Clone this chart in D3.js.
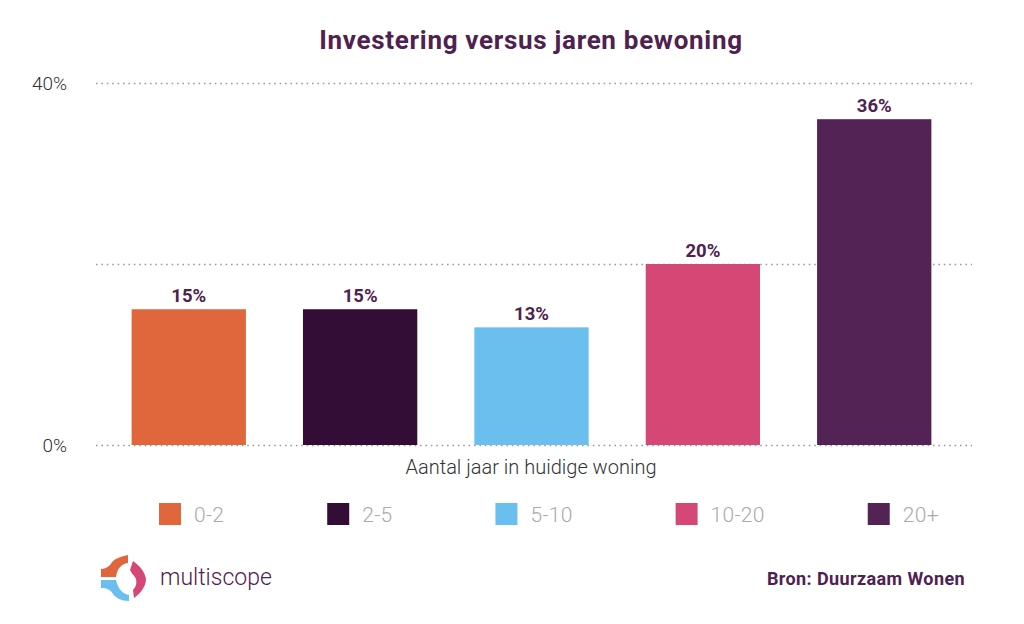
<!DOCTYPE html>
<html><head><meta charset="utf-8">
<script src="https://cdn.jsdelivr.net/npm/d3@7/dist/d3.min.js"></script>
<style>body{margin:0;background:#fff}svg{display:block}</style>
</head><body>
<svg id="c" width="1024" height="624"></svg>
<script>
const categories = ["0-2", "2-5", "5-10", "10-20", "20+"];
const values = [15, 15, 13, 20, 36];
const colors = ["#e0673b", "#330d35", "#6bbfee", "#d54875", "#542356"];
const yTicks = [0, 20, 40];
const tickLabels = ["0%", "", "40%"];
const title = "Investering versus jaren bewoning";
const xTitle = "Aantal jaar in huidige woning";
const source = "Bron: Duurzaam Wonen";

const svg = d3.select("#c");
const purple = "#4f2150";
const font = "Roboto, 'DejaVu Sans', sans-serif";

const y = d3.scaleLinear().domain([0, 40]).range([445, 83]);
const x = d3.scaleBand().domain(categories).range([103, 960]).paddingInner(0.333).paddingOuter(0.167);

// title
svg.append("text").attr("x", 531).attr("y", 49).attr("text-anchor", "middle")
  .attr("font-family", font).attr("font-weight", "bold").attr("font-size", 26)
  .attr("letter-spacing", 0.7)
  .attr("fill", purple).text(title);

// grid
const grid = svg.append("g");
grid.selectAll("line").data(yTicks).join("line")
  .attr("x1", 96).attr("x2", 972)
  .attr("y1", d => y(d) + 0.5).attr("y2", d => y(d) + 0.5)
  .attr("stroke", "#9a9a9a").attr("stroke-width", 1.6)
  .attr("stroke-dasharray", "1.6,3.8");

// y labels
svg.append("g").selectAll("text").data(yTicks).join("text")
  .attr("x", 67).attr("y", d => y(d) + 7).attr("text-anchor", "end")
  .attr("font-family", font).attr("font-weight", 300).attr("font-size", 19)
  .attr("fill", "#333").text((d, i) => tickLabels[i]);

// bars
svg.append("g").selectAll("rect").data(values).join("rect")
  .attr("x", (d, i) => x(categories[i])).attr("width", x.bandwidth())
  .attr("y", d => y(d)).attr("height", d => y(0) - y(d))
  .attr("fill", (d, i) => colors[i]);

// value labels
svg.append("g").selectAll("text").data(values).join("text")
  .attr("x", (d, i) => x(categories[i]) + x.bandwidth() / 2)
  .attr("y", d => y(d) - 7).attr("text-anchor", "middle")
  .attr("font-family", font).attr("font-weight", "bold").attr("font-size", 18.5)
  .attr("fill", purple).text(d => d + "%");

// x title
svg.append("text").attr("x", 531).attr("y", 474).attr("text-anchor", "middle")
  .attr("font-family", font).attr("font-weight", 300).attr("font-size", 20)
  .attr("fill", "#333").text(xTitle);

// legend
const lg = svg.append("g");
let lx = 159;
categories.forEach((c, i) => {
  lg.append("rect").attr("x", lx).attr("y", 503).attr("width", 22).attr("height", 22).attr("fill", colors[i]);
  const t = lg.append("text").attr("x", lx + 35).attr("y", 522)
    .attr("font-family", font).attr("font-weight", 300).attr("font-size", 21)
    .attr("letter-spacing", 0.3)
    .attr("fill", "#aaa").text(c);
  lx += 35 + t.node().getComputedTextLength() + 103;
});

// logo
const logo = svg.append("g");
logo.append("path").attr("d", "M128,555 L128,563 C121,564 117,569 116,577 L101,577 L101,569 C106,569 110,566 112,562 C116,558 122,556 128,555 Z").attr("fill", "#e0673b");
logo.append("path").attr("d", "M133,561 C140,566 145,572 146,579 C146,586 141,593 134,598 L133,590 C136,587 137,583 136,579 C134,575 131,573 130,570 Z").attr("fill", "#d54875");
logo.append("path").attr("d", "M101,580 L116,580 C118,589 123,594 129,595 L129,601 C121,601 116,598 113,594 C110,589 106,588 101,588 Z").attr("fill", "#6bbfee");
svg.append("text").attr("x", 160).attr("y", 585)
  .attr("font-family", font).attr("font-weight", 300).attr("font-size", 23)
  .attr("fill", purple).text("multiscope");

// source
svg.append("text").attr("x", 965).attr("y", 585).attr("text-anchor", "end")
  .attr("font-family", font).attr("font-weight", "bold").attr("font-size", 18)
  .attr("letter-spacing", 0.4)
  .attr("fill", purple).text(source);
</script>
</body></html>
